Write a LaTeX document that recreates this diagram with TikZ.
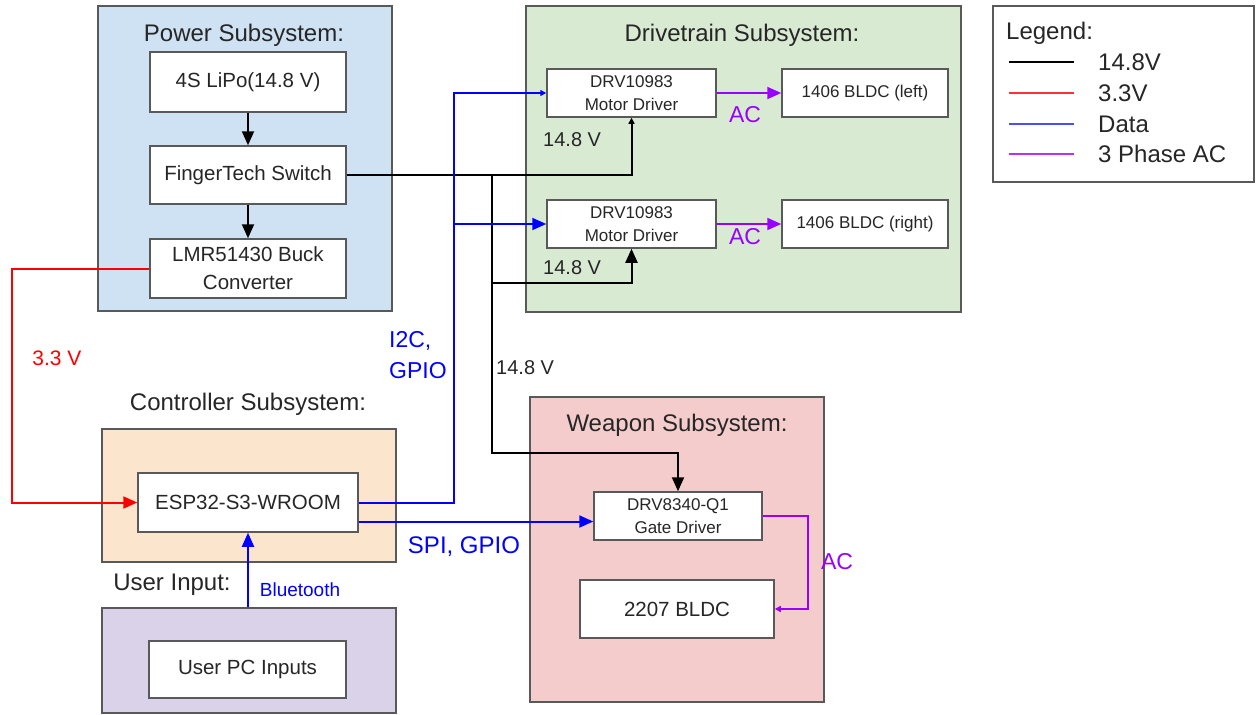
\documentclass[tikz,border=0pt]{standalone}
\usepackage{fontspec}
\setmainfont{Liberation Sans}
\usetikzlibrary{arrows.meta,calc}
\definecolor{pwrfill}{HTML}{CFE2F3}
\definecolor{drvfill}{HTML}{D9EAD3}
\definecolor{ctlfill}{HTML}{FCE5CD}
\definecolor{wpnfill}{HTML}{F4CCCC}
\definecolor{usrfill}{HTML}{D9D2E9}
\definecolor{edgegray}{HTML}{595959}
\definecolor{txtgray}{HTML}{262626}
\definecolor{datablue}{HTML}{0000FF}
\definecolor{railred}{HTML}{FF0000}
\definecolor{acpurple}{HTML}{9900FF}
\tikzset{
  subsys/.style = {draw=edgegray,line width=1.5pt,inner sep=0pt},
  blk/.style    = {draw=edgegray,line width=1.5pt,fill=white,align=center,
                   text=txtgray,font=\fontsize{20.5}{28}\selectfont,inner sep=0pt},
  sblk/.style   = {blk,font=\fontsize{17}{23}\selectfont},
  ttl/.style    = {text=txtgray,font=\fontsize{24}{28}\selectfont,inner sep=0pt},
  vlab/.style   = {text=txtgray,font=\fontsize{20}{24}\selectfont,inner sep=0pt},
  bigtip/.style = {-{Triangle[length=14pt,width=12pt]}},
  smtip/.style  = {-{Triangle[length=6pt,width=6pt]}},
  wline/.style  = {line width=2pt,color=black},
  rline/.style  = {line width=2pt,color=railred},
  bline/.style  = {line width=2pt,color=datablue},
  aline/.style  = {line width=2pt,color=acpurple},
}
\begin{document}
\begin{tikzpicture}[x=1pt,y=-1pt]
  \useasboundingbox (0,0) rectangle (1256,715);

  % subsystem frames
  \node[subsys,fill=pwrfill,minimum width=294pt,minimum height=305pt] (pwr) at (245,158.5) {};
  \node[subsys,fill=drvfill,minimum width=435pt,minimum height=306pt] (drv) at (743.5,159) {};
  \node[subsys,fill=ctlfill,minimum width=294pt,minimum height=133pt] (ctl) at (249,495.5) {};
  \node[subsys,fill=usrfill,minimum width=294pt,minimum height=105pt] (usr) at (249,660.5) {};
  \node[subsys,fill=wpnfill,minimum width=294pt,minimum height=305pt] (wpn) at (677,549.5) {};
  \node[subsys,fill=white,minimum width=261pt,minimum height=176pt] (leg) at (1123.5,94) {};

  \node[ttl] (pwrtitle) at (244,35) {Power Subsystem:};
  \node[ttl] (drvtitle) at (742,35) {Drivetrain Subsystem:};
  \node[ttl] (ctltitle) at (248,404) {Controller Subsystem:};
  \node[ttl] (usrtitle) at (172,585) {User Input:};
  \node[ttl] (wpntitle) at (677,425) {Weapon Subsystem:};

  % blocks
  \node[blk,minimum width=196pt,minimum height=60pt] (lipo) at (248,82) {4S LiPo(14.8 V)};
  \node[blk,minimum width=196pt,minimum height=58pt] (sw) at (248,175) {FingerTech Switch};
  \node[blk,minimum width=196pt,minimum height=59pt] (buck) at (248,268.5) {LMR51430 Buck\\Converter};
  \node[sblk,minimum width=169pt,minimum height=48pt] (drvA) at (631.5,93) {DRV10983\\Motor Driver};
  \node[sblk,minimum width=166pt,minimum height=48pt] (bldcL) at (865,93) {1406 BLDC (left)};
  \node[sblk,minimum width=169pt,minimum height=48pt] (drvB) at (631.5,224) {DRV10983\\Motor Driver};
  \node[sblk,minimum width=166pt,minimum height=48pt] (bldcR) at (865,224) {1406 BLDC (right)};
  \node[blk,minimum width=220pt,minimum height=59pt] (esp) at (248,502.5) {ESP32-S3-WROOM};
  \node[blk,minimum width=197pt,minimum height=57pt] (pc) at (247.5,669.5) {User PC Inputs};
  \node[sblk,minimum width=168pt,minimum height=48pt] (gate) at (678,516) {DRV8340-Q1\\Gate Driver};
  \node[blk,minimum width=194pt,minimum height=58pt] (bldcW) at (677,609) {2207 BLDC};

  % bend points
  \coordinate (tap) at (492,175);
  \coordinate (tapB) at (492,283);
  \coordinate (tapW) at (492,453);
  \coordinate (rail) at (12,400);
  \coordinate (dbus) at (454,224);
  \coordinate (spi) at ($(esp.east)+(0,19)$);
  \coordinate (acw) at (808,560);

  % 14.8 V
  \draw[wline,bigtip] (lipo) -- (sw);
  \draw[wline,bigtip] (sw) -- (buck);
  \draw[wline,smtip] (sw.east) -| (drvA.south);
  \draw[wline] (tap) -- (tapB);
  \draw[wline,bigtip] (tapB) -| (drvB.south);
  \draw[wline,bigtip] (tapB) -- (tapW) -| (gate.north);

  % 3.3 V
  \draw[rline,bigtip] (buck.west) -| (rail) |- (esp.west);

  % data
  \draw[bline,smtip] (esp.east) -| (dbus) |- (drvA.west);
  \draw[bline,bigtip] (dbus) -- (drvB.west);
  \draw[bline,bigtip] (spi) -- (spi -| gate.west);
  \draw[bline,bigtip] (esp.south |- usr.north) -- (esp.south);

  % 3 phase AC
  \draw[aline,bigtip] (drvA) -- (bldcL);
  \draw[aline,bigtip] (drvB) -- (bldcR);
  \draw[aline,smtip] (gate.east) -| (acw) |- (bldcW.east);

  % connector labels
  \node[vlab,anchor=west] (v1) at (543,140) {14.8 V};
  \node[vlab,anchor=west] (v2) at (543,268) {14.8 V};
  \node[vlab,anchor=west] (v3) at (496,368) {14.8 V};
  \node[text=railred,font=\fontsize{21}{24}\selectfont,inner sep=0pt] (l33) at (57,358) {3.3 V};
  \node[text=datablue,font=\fontsize{23}{31}\selectfont,align=left,anchor=west,inner sep=0pt]
    (li2c) at (389,355) {I2C,\\GPIO};
  \node[text=datablue,font=\fontsize{24}{28}\selectfont,inner sep=0pt] (lspi) at (464,547) {SPI, GPIO};
  \node[text=datablue,font=\fontsize{19}{22}\selectfont,inner sep=0pt] (lbt) at (300,590) {Bluetooth};
  \node[text=acpurple,font=\fontsize{23}{26}\selectfont,inner sep=0pt] (acA) at (745,115) {AC};
  \node[text=acpurple,font=\fontsize{23}{26}\selectfont,inner sep=0pt] (acB) at (745,237) {AC};
  \node[text=acpurple,font=\fontsize{23}{26}\selectfont,inner sep=0pt] (acW) at (837,562) {AC};

  % legend
  \node[ttl,anchor=west] (legtitle) at (1006,33) {Legend:};
  \foreach \y/\col/\lab in {
    62/black/14.8V,
    93/railred!80/3.3V,
    124/datablue!70/Data,
    154/acpurple!80/3 Phase AC}{
    \draw[\col,line width=1.2pt] (1009,\y) -- (1074,\y);
    \node[ttl,anchor=west] at (1098,\y) {\lab};
  }
\end{tikzpicture}
\end{document}
